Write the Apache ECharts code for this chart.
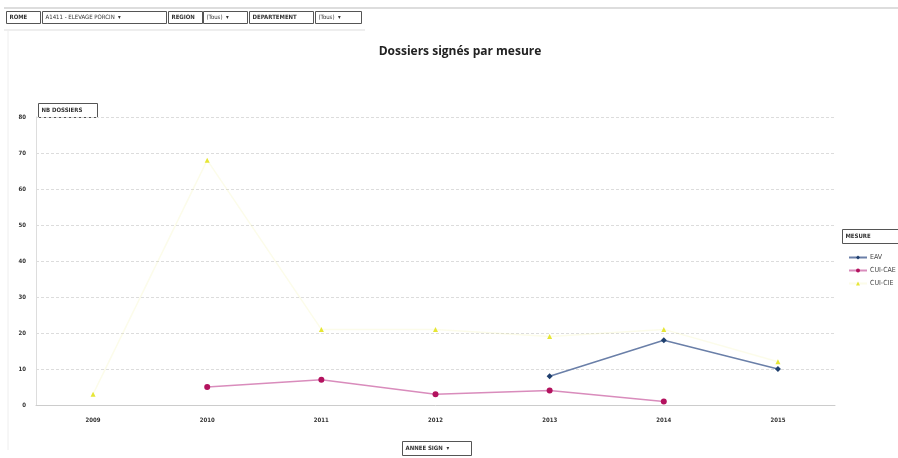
<!DOCTYPE html>
<html>
<head>
<meta charset="utf-8">
<script src="https://cdn.jsdelivr.net/npm/echarts@6/dist/echarts.min.js"></script>
<style>html,body{margin:0;padding:0;background:#fff;}#c{width:898px;height:458px;}</style>
</head>
<body>
<div id="c"></div>
<script>
const years = ['2009','2010','2011','2012','2013','2014','2015'];
const eav = [null, null, null, null, 8, 18, 10];
const cuiCae = [null, 5, 7, 3, 4, 1, null];
const cuiCie = [3, 68, 21, 21, 19, 21, 12];
const yTicks = [0, 10, 20, 30, 40, 50, 60, 70, 80];

const chart = echarts.init(document.getElementById('c'));
const F = 'DejaVu Sans Condensed, DejaVu Sans, sans-serif';

function box(x, y, w, h, text, opts) {
  opts = opts || {};
  return {
    type: 'group', left: x, top: y,
    children: [
      {type: 'rect', shape: {x: 0, y: 0, width: w, height: h},
       style: {fill: opts.fill || '#fff', stroke: '#555', lineWidth: 1}},
      {type: 'text', style: {x: 3, y: h / 2, text: text, fill: '#333',
        font: (opts.bold ? 'bold ' : '') + '6px ' + F, verticalAlign: 'middle'}}
    ]
  };
}

chart.setOption({
  backgroundColor: '#fff',
  animation: false,
  title: {
    text: 'Dossiers signés par mesure',
    left: 455, top: 41, textAlign: 'center',
    textStyle: {fontFamily: 'Open Sans, DejaVu Sans, sans-serif', fontSize: 12, fontWeight: 'bold', color: '#222'}
  },
  legend: {
    orient: 'vertical', left: 843, top: 249,
    itemWidth: 18, itemHeight: 5, itemGap: 6,
    textStyle: {fontSize: 7, color: '#444', fontFamily: F, padding: [0, 0, 0, -2]},
    data: ['EAV', 'CUI-CAE', 'CUI-CIE']
  },
  grid: {left: 36, right: 63, top: 117, bottom: 53},
  xAxis: {
    type: 'category', data: years, boundaryGap: true,
    axisLine: {show: true, lineStyle: {color: '#ccc'}},
    axisTick: {show: false},
    axisLabel: {fontSize: 6, color: '#333', margin: 12, fontFamily: F, fontWeight: 'bold'}
  },
  yAxis: {
    type: 'value', min: 0, max: 80, interval: 10,
    axisLine: {show: true, lineStyle: {color: '#ddd'}},
    axisTick: {show: false},
    axisLabel: {fontSize: 6, color: '#333', margin: 10, fontFamily: F, fontWeight: 'bold',
      formatter: v => yTicks.includes(v) ? String(v) : ''},
    splitLine: {lineStyle: {color: '#dcdcdc', type: [3, 2], width: 1}}
  },
  series: [
    {name: 'EAV', type: 'line', data: eav, connectNulls: false,
     symbol: 'diamond', symbolSize: 6,
     lineStyle: {color: '#6a7fa8', width: 1.5},
     itemStyle: {color: '#1f3f6e'}},
    {name: 'CUI-CAE', type: 'line', data: cuiCae,
     symbol: 'circle', symbolSize: 6,
     lineStyle: {color: '#d98cbc', width: 1.5},
     itemStyle: {color: '#b3125e'}},
    {name: 'CUI-CIE', type: 'line', data: cuiCie,
     symbol: 'triangle', symbolSize: 5,
     lineStyle: {color: 'rgba(240,240,140,0.18)', width: 1.5},
     itemStyle: {color: '#e6e635'}}
  ],
  graphic: [
    {type: 'line', shape: {x1: 4, y1: 8, x2: 898, y2: 8}, style: {stroke: '#bbb', lineWidth: 1}},
    {type: 'line', shape: {x1: 4, y1: 30, x2: 365, y2: 30}, style: {stroke: '#ddd', lineWidth: 1}},
    {type: 'line', shape: {x1: 8, y1: 30, x2: 8, y2: 450}, style: {stroke: '#eee', lineWidth: 1}},
    box(6, 11, 34, 12, 'ROME', {bold: true}),
    box(42, 11, 124, 12, 'A1411 - ELEVAGE PORCIN  ▾'),
    box(168, 11, 34, 12, 'REGION', {bold: true}),
    box(203, 11, 44, 12, '(Tous)  ▾'),
    box(249, 11, 64, 12, 'DEPARTEMENT', {bold: true}),
    box(315, 11, 46, 12, '(Tous)  ▾'),
    box(38, 103, 59, 14, 'NB DOSSIERS', {bold: true}),
    box(402, 441, 69, 14, 'ANNEE SIGN  ▾', {bold: true}),
    box(842, 229, 60, 14, 'MESURE', {bold: true})
  ]
});
</script>
</body>
</html>
